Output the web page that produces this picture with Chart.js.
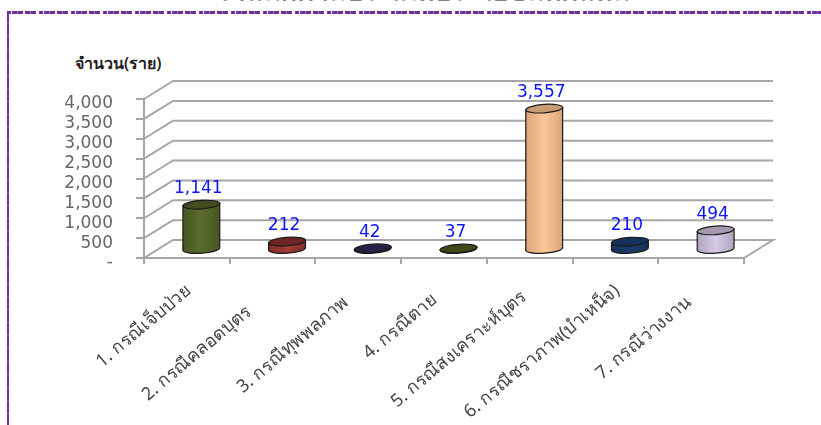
<!DOCTYPE html>
<html lang="th">
<head>
<meta charset="utf-8">
<style>
  html, body { margin: 0; padding: 0; background: #fff; overflow: hidden; }
  #page { position: relative; width: 821px; height: 425px; overflow: hidden; }
  #title { position: absolute; left: 213px; top: -30px; width: 420px; text-align: center; white-space: nowrap;
    font: bold 26px "Noto Sans", Tahoma, sans-serif; color: #111; }
  #frame-top { position: absolute; left: 7px; top: 11px; width: 814px; height: 3px;
    background: repeating-linear-gradient(90deg, #7030a0 0 4px, #fff 4px 5px, #7030a0 5px 10px, #9a6cc0 10px 11px, #7030a0 11px 16px, #fff 16px 18px, #7030a0 18px 23px, #9a6cc0 23px 24px, #7030a0 24px 29px, #fff 29px 32px); }
  #frame-left { position: absolute; left: 7px; top: 11px; width: 2px; height: 414px;
    background: repeating-linear-gradient(180deg, #7030a0 0 12px, #9a6cc0 12px 13px); }
  #unit { position: absolute; left: 75px; top: 51px; font: 600 16px "Noto Sans", Tahoma, sans-serif; color: #222; }
  canvas { position: absolute; left: 0; top: 0; }
</style>
</head>
<body>
<div id="page">
  <div id="title">จำแนกตามประเภทประโยชน์ทดแทน</div>
  <div id="frame-top"></div>
  <div id="frame-left"></div>
  <div id="unit">จำนวน(ราย)</div>
  <canvas id="chart" width="821" height="425"></canvas>
</div>
<script src="https://cdn.jsdelivr.net/npm/chart.js@4"></script>
<script>
// Chart data
const categories = ['1. กรณีเจ็บป่วย', '2. กรณีคลอดบุตร', '3. กรณีทุพพลภาพ', '4. กรณีตาย', '5. กรณีสงเคราะห์บุตร', '6. กรณีชราภาพ(บำเหน็จ)', '7. กรณีว่างงาน'];
const values = [1141, 212, 42, 37, 3557, 210, 494];
const yTickLabels = ['-', '500', '1,000', '1,500', '2,000', '2,500', '3,000', '3,500', '4,000'];

// Cylinder colours: edge of body, middle of body, top cap
const edgeColors = ['#46561f', '#7f2c2a', '#241a3c', '#333f14', '#d9a377', '#12305a', '#b0a5be'];
const midColors = ['#5a6c2c', '#a33a38', '#2c2148', '#3f4d1b', '#fcc896', '#1a3d6c', '#d6cbe4'];
const capColors = ['#414d1e', '#6e2725', '#2a1f46', '#3d4a18', '#c99c74', '#143257', '#a399b0'];

// The rotated labels do not all end at the same distance from the axis:
// trailing no-break spaces push each one back along its slant
const labelPads = [0, 7, 4, 3, 2, 0, 4];

const gridColor = '#a6a6a6';
// 3D look: how far the back wall sits from the front plane
const depthX = 29;
const depthY = -18;

function drawCylinder(ctx, x, top, base, rx, i) {
  const ry = 4.2;
  const tilt = -0.07;
  const lift = rx * Math.sin(-tilt);
  const grad = ctx.createLinearGradient(x - rx, 0, x + rx, 0);
  grad.addColorStop(0, edgeColors[i]);
  grad.addColorStop(0.5, midColors[i]);
  grad.addColorStop(1, edgeColors[i]);
  ctx.beginPath();
  ctx.moveTo(x - rx, top + lift);
  ctx.lineTo(x - rx, base + lift);
  ctx.ellipse(x, base, rx, ry, tilt, Math.PI, 0, true);
  ctx.lineTo(x + rx, top - lift);
  ctx.closePath();
  ctx.fillStyle = grad;
  ctx.fill();
  ctx.strokeStyle = '#1a1a1a';
  ctx.lineWidth = 1.2;
  ctx.stroke();
  ctx.beginPath();
  ctx.ellipse(x, top, rx, ry, tilt, 0, Math.PI * 2);
  ctx.fillStyle = capColors[i];
  ctx.fill();
  ctx.stroke();
}

const walls = {
  id: 'walls',
  beforeDatasetsDraw(chart) {
    const { ctx, scales: { y }, chartArea: area } = chart;
    ctx.save();
    ctx.strokeStyle = gridColor;
    ctx.lineWidth = 2;
    y.ticks.forEach(tick => {
      const py = y.getPixelForValue(tick.value);
      ctx.beginPath();
      ctx.moveTo(area.left, py);
      ctx.lineTo(area.left + depthX, py + depthY);
      ctx.lineTo(area.right + depthX, py + depthY);
      // floor also closes on the right side
      if (tick.value === 0) {
        ctx.lineTo(area.right, py);
      }
      ctx.stroke();
    });
    ctx.restore();
  },
  beforeDatasetDraw() {
    return false;
  },
  afterDatasetsDraw(chart) {
    const { ctx } = chart;
    const bars = chart.getDatasetMeta(0).data;
    ctx.save();
    bars.forEach((bar, i) => {
      const shiftX = depthX / 2;
      const shiftY = depthY / 2 + 1;
      drawCylinder(ctx, bar.x + shiftX, bar.y + shiftY, bar.base + shiftY, bar.width / 2, i);
      ctx.fillStyle = '#0a14ff';
      ctx.font = '17px "DejaVu Sans", Verdana, sans-serif';
      ctx.textAlign = 'center';
      ctx.textBaseline = 'middle';
      ctx.fillText(values[i].toLocaleString('en-US'), bar.x + shiftX - 3, bar.y + shiftY - 16);
    });
    ctx.restore();
  }
};

new Chart(document.getElementById('chart'), {
  type: 'bar',
  data: {
    labels: categories,
    datasets: [{ data: values, backgroundColor: midColors, barPercentage: 0.43, categoryPercentage: 1 }]
  },
  options: {
    responsive: false,
    animation: false,
    layout: { padding: { left: 44, right: 77, top: 99, bottom: 0 } },
    plugins: { legend: { display: false }, tooltip: { enabled: false } },
    scales: {
      x: {
        grid: { drawOnChartArea: false, color: gridColor, lineWidth: 2, tickLength: 6 },
        border: { color: gridColor, width: 2 },
        afterFit: scale => { scale.height = 167; },
        ticks: {
          autoSkip: false,
          minRotation: 40,
          maxRotation: 40,
          padding: 16,
          labelOffset: 2,
          color: '#444',
          font: { family: '"Noto Sans", Tahoma, sans-serif', size: 18 },
          callback: (value, index) => categories[index] + '\u00A0'.repeat(labelPads[index])
        }
      },
      y: {
        min: 0,
        max: 4000,
        afterFit: scale => { scale.width = 100; },
        grid: { drawOnChartArea: false, color: gridColor, lineWidth: 2, tickLength: 8 },
        border: { color: gridColor, width: 2 },
        ticks: {
          autoSkip: false,
          stepSize: 500,
          padding: 23,
          labelOffset: 5,
          color: '#666',
          font: { family: '"DejaVu Sans", Verdana, sans-serif', size: 17 },
          callback: (value, index) => yTickLabels[index]
        }
      }
    }
  },
  plugins: [walls]
});
</script>
</body>
</html>
